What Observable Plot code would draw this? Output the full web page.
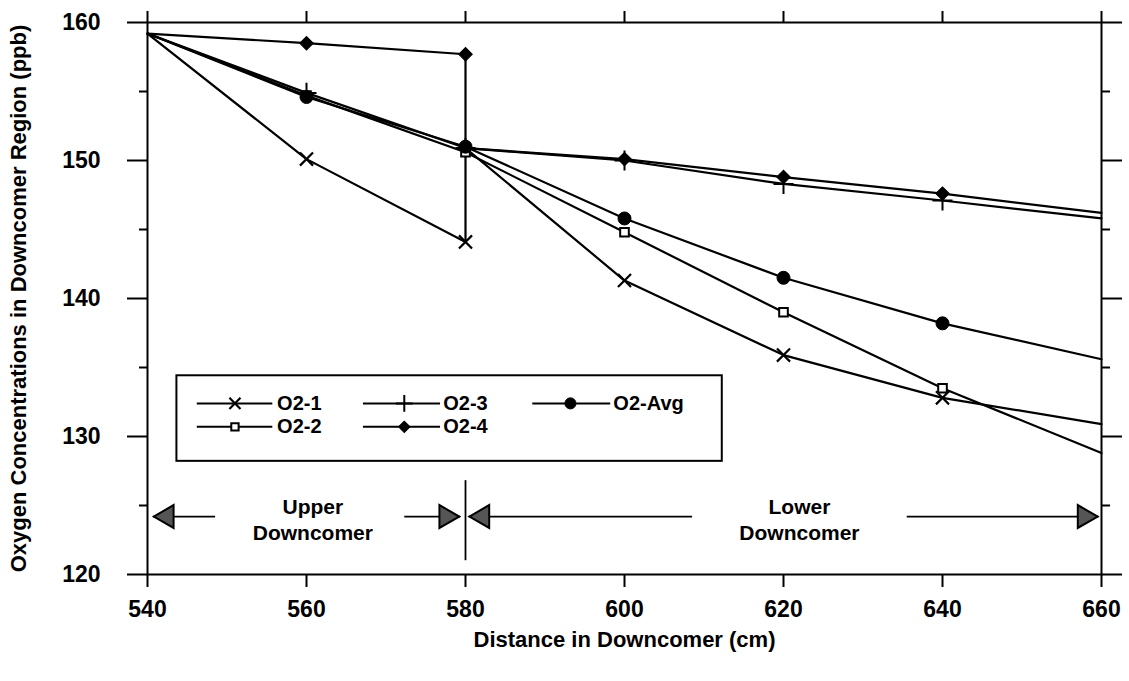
<!DOCTYPE html>
<html>
<head>
<meta charset="utf-8">
<script src="https://cdn.jsdelivr.net/npm/d3@7"></script>
<script src="https://cdn.jsdelivr.net/npm/@observablehq/plot@0.6"></script>
<style>
  html, body { margin: 0; padding: 0; background: #fff; }
  #chart svg { display: block; }
</style>
</head>
<body>
<div id="chart"></div>
<script>
// ---------- data ----------
const seriesNames = ["O2-1", "O2-2", "O2-3", "O2-4", "O2-Avg"];
const xWithJump = [540, 560, 580, 580, 600, 620, 640, 660];
const xNoJump   = [540, 560, 580, 600, 620, 640, 660];
const o2_1   = [159.2, 150.1, 144.1, 150.9, 141.3, 135.9, 132.8, 130.9];
const o2_2   = [159.2, 154.7, 150.6, 144.8, 139.0, 133.5, 128.8];
const o2_3   = [159.2, 154.9, 150.9, 150.0, 148.3, 147.1, 145.8];
const o2_4   = [159.2, 158.5, 157.7, 150.9, 150.1, 148.8, 147.6, 146.2];
const o2_avg = [159.2, 154.6, 151.0, 145.8, 141.5, 138.2, 135.6];
const markerXs = [560, 580, 600, 620, 640];

const xTicks = [540, 560, 580, 600, 620, 640, 660];
const yTicks = [120, 130, 140, 150, 160];
const yMinorTicks = [125, 135, 145, 155];

const xTitle = "Distance in Downcomer (cm)";
const yTitle = "Oxygen Concentrations in Downcomer Region (ppb)";
const regionNames = ["Upper\nDowncomer", "Lower\nDowncomer"];
const regionBoundary = 580;

// ---------- assemble ----------
const seriesX = {"O2-1": xWithJump, "O2-2": xNoJump, "O2-3": xNoJump, "O2-4": xWithJump, "O2-Avg": xNoJump};
const seriesY = {"O2-1": o2_1, "O2-2": o2_2, "O2-3": o2_3, "O2-4": o2_4, "O2-Avg": o2_avg};
const rows = seriesNames.flatMap(s => seriesY[s].map((y, i) => ({series: s, x: seriesX[s][i], y})));
// markers: only at interior stations, first point of a station per series
const markerRows = [];
for (const s of seriesNames) {
  const seen = new Set();
  for (const d of rows.filter(r => r.series === s)) {
    if (markerXs.includes(d.x) && !seen.has(d.x)) { seen.add(d.x); markerRows.push(d); }
  }
}

const markStyle = {
  "O2-1":   {symbol: "times",   r: 6,   stroke: "black", strokeWidth: 2.2},
  "O2-2":   {symbol: "square2", r: 5.5, fill: "white", stroke: "black", strokeWidth: 2},
  "O2-3":   {symbol: "plus",    r: 6.5, stroke: "black", strokeWidth: 2},
  "O2-4":   {symbol: "square",  r: 5.4, rotate: 45, fill: "black", stroke: "black", strokeWidth: 1},
  "O2-Avg": {symbol: "circle",  r: 6.5, fill: "black", stroke: "black", strokeWidth: 1}
};
const drawOrder = ["O2-3", "O2-1", "O2-2", "O2-Avg", "O2-4"];

// ---------- layout (annotation / legend placement, data units) ----------
const legendBox = {x1: 543.7, x2: 612.3, y1: 128.2, y2: 134.4};
const legendRowY = [132.4, 130.7];
const legendCols = [{l1: 546.2, l2: 555.7, m: 551.0, t: 556.3}, {l1: 567.1, l2: 576.8, m: 572.3, t: 577.2}, {l1: 588.4, l2: 598.2, m: 593.2, t: 598.6}];
const legendSlots = {"O2-1": [0, 0], "O2-3": [0, 1], "O2-Avg": [0, 2], "O2-2": [1, 0], "O2-4": [1, 1]};
const legendRows = seriesNames.map(s => {
  const [r, c] = legendSlots[s];
  return {series: s, y: legendRowY[r], ...legendCols[c]};
});

const arrowY = 124.2;
const arrowSegs = [
  {x1: 540.7, x2: 548.5, tip: 540.7, dir: -1},
  {x1: 572.3, x2: 579.3, tip: 579.3, dir: 1},
  {x1: 580.4, x2: 608.5, tip: 580.4, dir: -1},
  {x1: 635.5, x2: 659.6, tip: 659.6, dir: 1}
];
const regionTextX = [560.8, 622.0];
const regionTextY = 124.05;
const dividerY = [121.0, 126.8];

const font = "Liberation Sans, Arial, Helvetica, sans-serif";

const marks = [
  Plot.frame({stroke: "black", strokeWidth: 2}),
  // axes
  Plot.axisX({ticks: xTicks, tickSize: 13, tickPadding: 13, tickFormat: d => String(d), label: null, fontSize: 23, fontWeight: "bold", strokeWidth: 2}),
  Plot.axisX({anchor: "top", ticks: xTicks, tickSize: 12, tickFormat: () => "", label: null, strokeWidth: 2}),
  Plot.axisY({ticks: yTicks, tickSize: 20, tickPadding: 27, tickFormat: d => String(d), label: null, fontSize: 23, fontWeight: "bold", strokeWidth: 2}),
  Plot.axisY({ticks: yMinorTicks, tickSize: 8, tickFormat: () => "", label: null, strokeWidth: 2}),
  Plot.axisY({anchor: "right", ticks: yTicks, tickSize: 20, tickFormat: () => "", label: null, strokeWidth: 2}),
  Plot.axisY({anchor: "right", ticks: yMinorTicks, tickSize: 8, tickFormat: () => "", label: null, strokeWidth: 2}),
  // titles
  Plot.text([yTitle], {frameAnchor: "left", textAnchor: "middle", dx: -129, rotate: -90, text: d => d, fontSize: 22, fontWeight: "bold", fill: "black"}),
  Plot.text([xTitle], {frameAnchor: "bottom", textAnchor: "middle", dy: 72, text: d => d, fontSize: 22, fontWeight: "bold", fill: "black"}),
  // region annotation
  Plot.ruleX([regionBoundary], {y1: dividerY[0], y2: dividerY[1], stroke: "black", strokeWidth: 1.8}),
  Plot.link(arrowSegs, {x1: "x1", x2: "x2", y1: arrowY, y2: arrowY, stroke: "black", strokeWidth: 1.8}),
  Plot.dot(arrowSegs, {x: d => d.tip - d.dir * 1.75, y: arrowY, symbol: "triangle", r: 8.5, rotate: d => d.dir * 90, fill: "#555", stroke: "black", strokeWidth: 2}),
  Plot.text(regionNames, {x: (d, i) => regionTextX[i], y: regionTextY, text: d => d, fontSize: 21, fontWeight: "bold", lineHeight: 1.25, fill: "black"}),
  // data lines
  Plot.line(rows, {x: "x", y: "y", z: "series", stroke: "black", strokeWidth: 2.2}),
  ...drawOrder.map(s => Plot.dot(markerRows.filter(d => d.series === s), {x: "x", y: "y", ...markStyle[s]})),
  // legend
  Plot.rect([legendBox], {x1: "x1", x2: "x2", y1: "y1", y2: "y2", fill: "white", stroke: "black", strokeWidth: 2}),
  Plot.link(legendRows, {x1: "l1", x2: "l2", y1: "y", y2: "y", stroke: "black", strokeWidth: 2}),
  ...drawOrder.map(s => Plot.dot(legendRows.filter(d => d.series === s), {x: "m", y: "y", ...markStyle[s], r: markStyle[s].r * 0.85})),
  Plot.text(legendRows, {x: "t", y: "y", text: "series", textAnchor: "start", fontSize: 20, fontWeight: "bold", fill: "black"})
];

const chart = Plot.plot({
  width: 1129,
  height: 681,
  marginLeft: 147,
  marginRight: 28,
  marginTop: 22,
  marginBottom: 107,
  style: {fontFamily: font, color: "black", background: "white", overflow: "visible"},
  x: {type: "linear", domain: [540, 660]},
  y: {type: "linear", domain: [120, 160]},
  marks
});
document.getElementById("chart").appendChild(chart);
</script>
</body>
</html>
